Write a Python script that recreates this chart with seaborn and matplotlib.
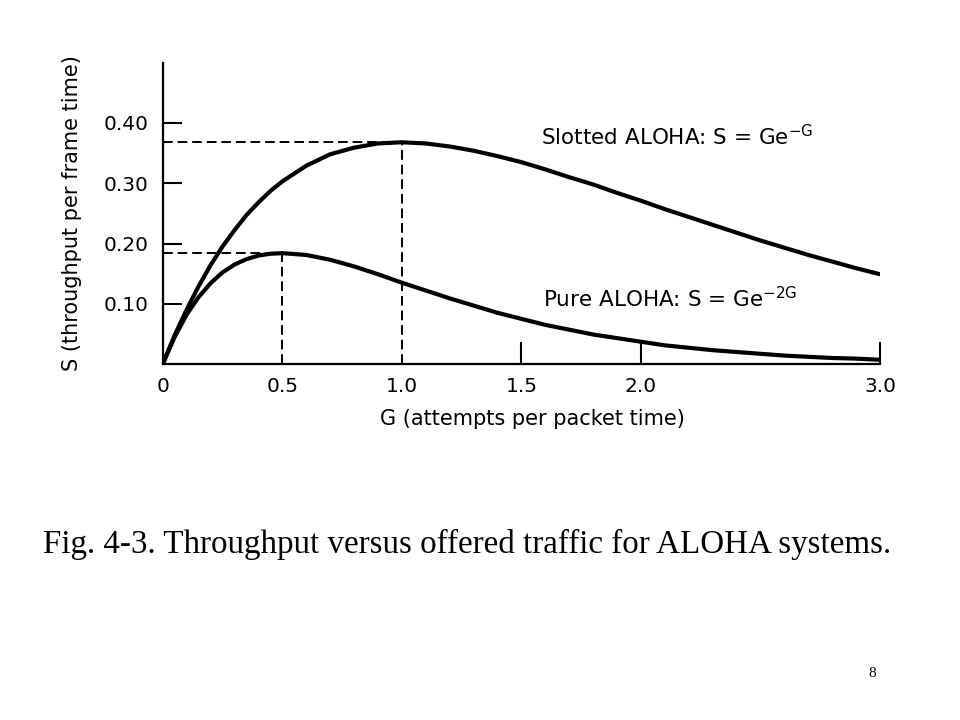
import matplotlib
matplotlib.use("Agg")
import matplotlib.pyplot as plt
import seaborn as sns
import pandas as pd

# Offered load G (attempts per packet time)
G = [0.0, 0.05, 0.1, 0.15, 0.2, 0.25, 0.3, 0.35, 0.4, 0.45, 0.5, 0.6, 0.7, 0.8, 0.9, 1.0,
     1.1, 1.2, 1.3, 1.4, 1.5, 1.6, 1.7, 1.8, 1.9, 2.0,
     2.1, 2.2, 2.3, 2.4, 2.5, 2.6, 2.7, 2.8, 2.9, 3.0]
# Throughput
slotted_S = [0.000, 0.048, 0.090, 0.129, 0.164, 0.195, 0.222, 0.247, 0.268, 0.287, 0.303,
             0.329, 0.348, 0.359, 0.366, 0.368,
             0.366, 0.361, 0.354, 0.345, 0.335, 0.323, 0.310, 0.298, 0.284, 0.271,
             0.257, 0.244, 0.231, 0.218, 0.205, 0.193, 0.181, 0.170, 0.159, 0.149]
pure_S = [0.000, 0.045, 0.082, 0.111, 0.134, 0.152, 0.165, 0.174, 0.180, 0.183, 0.184,
          0.181, 0.173, 0.162, 0.149, 0.135,
          0.122, 0.109, 0.097, 0.085, 0.075, 0.065, 0.057, 0.049, 0.043, 0.037,
          0.031, 0.027, 0.023, 0.020, 0.017, 0.014, 0.012, 0.010, 0.009, 0.007]

# Peak markers (dashed guides)
slotted_peak_G, slotted_peak_S = 1.0, 0.368
pure_peak_G, pure_peak_S = 0.5, 0.184

x_ticks = [0, 0.5, 1.0, 1.5, 2.0, 3.0]
x_tick_labels = ["0", "0.5", "1.0", "1.5", "2.0", "3.0"]
y_ticks = [0.10, 0.20, 0.30, 0.40]
y_tick_labels = ["0.10", "0.20", "0.30", "0.40"]

x_label = "G (attempts per packet time)"
y_label = "S (throughput per frame time)"
slotted_label = "Slotted ALOHA: S = Ge$^{-G}$"
pure_label = "Pure ALOHA: S = Ge$^{-2G}$"
caption = "Fig. 4-3. Throughput versus offered traffic for ALOHA systems."
page_number = "8"

sns.set_style("white")
plt.rcParams["font.family"] = ["DejaVu Sans"]
plt.rcParams["mathtext.default"] = "regular"
plt.rcParams["text.color"] = "black"
plt.rcParams["axes.labelcolor"] = "black"

df = pd.DataFrame({"G": G + G,
                   "S": slotted_S + pure_S,
                   "system": ["Slotted"] * len(G) + ["Pure"] * len(G)})

fig = plt.figure(figsize=(9.6, 7.2), dpi=100)
ax = fig.add_axes([0.1695, 0.4944, 0.7472, 0.4185])

sns.lineplot(data=df, x="G", y="S", units="system", estimator=None,
             color="black", linewidth=3.0, ax=ax, legend=False)

dash = (0, (5, 2.5))
ax.plot([0, slotted_peak_G], [slotted_peak_S, slotted_peak_S], color="black", lw=1.4, ls=dash)
ax.plot([slotted_peak_G, slotted_peak_G], [0, slotted_peak_S], color="black", lw=1.4, ls=dash)
ax.plot([0, pure_peak_G], [pure_peak_S, pure_peak_S], color="black", lw=1.4, ls=dash)
ax.plot([pure_peak_G, pure_peak_G], [0, pure_peak_S], color="black", lw=1.4, ls=dash)

ax.set_xlim(0, 3.0)
ax.set_ylim(0, 0.5)
ax.set_xticks(x_ticks)
ax.set_xticklabels(x_tick_labels)
ax.set_yticks(y_ticks)
ax.set_yticklabels(y_tick_labels)
ax.tick_params(axis="x", bottom=True, direction="in", length=16, width=1.5, pad=9,
               labelsize=14.5, colors="black")
ax.tick_params(axis="y", left=True, direction="in", length=14, width=1.5, pad=10,
               labelsize=14.5, colors="black")
for i, t in enumerate(ax.xaxis.get_major_ticks()):
    if i in (0, 1, 2):
        t.tick1line.set_visible(False)

for s in ["top", "right"]:
    ax.spines[s].set_visible(False)
for s in ["left", "bottom"]:
    ax.spines[s].set_color("black")
    ax.spines[s].set_linewidth(1.6)

ax.set_xlabel(x_label, fontsize=15, color="black")
ax.set_ylabel(y_label, fontsize=15, color="black")
ax.xaxis.set_label_coords(0.516, -0.15)
ax.yaxis.set_label_coords(-0.113, 0.5)

ax.text(1.582, 0.378, slotted_label, fontsize=15.5, ha="left", va="center", color="black")
ax.text(1.59, 0.109, pure_label, fontsize=15.5, ha="left", va="center", color="black")

fig.text(0.045, 0.232, caption, fontsize=23.8, family="Liberation Serif",
         ha="left", va="baseline", color="black")
fig.text(0.909, 0.065, page_number, fontsize=11, family="Liberation Serif",
         ha="center", va="center", color="black")

fig.savefig("out.png", dpi=100)
